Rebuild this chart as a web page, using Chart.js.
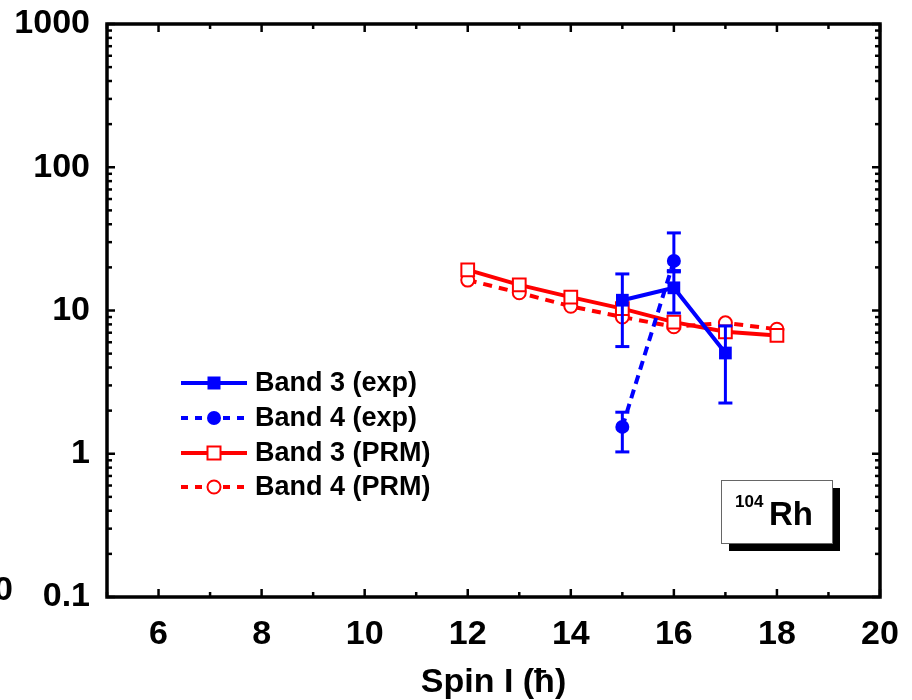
<!DOCTYPE html>
<html>
<head>
<meta charset="utf-8">
<script src="https://cdn.jsdelivr.net/npm/chart.js@4.4.1/dist/chart.umd.min.js"></script>
<style>
  html, body { margin: 0; padding: 0; background: #fff; }
  #wrap { width: 912px; height: 700px; }
</style>
</head>
<body>
<div id="wrap"><canvas id="c" width="912" height="700"></canvas></div>
<script>
// axis ticks
const xTicks = [6, 8, 10, 12, 14, 16, 18, 20];
const yTicks = [0.1, 1, 10, 100, 1000];

// PRM calculations
const spinPrm = [12, 13, 14, 15, 16, 17, 18];
const band3Prm = [19.2, 15.1, 12.4, 10.3, 8.3, 7.1, 6.7];
const band4Prm = [16.3, 13.3, 10.7, 9.0, 7.7, 8.2, 7.4];

// experiment, with error limits
const spinB3 = [15, 16, 17];
const band3Exp = [11.8, 14.4, 5.05];
const band3Lo = [5.6, 9.6, 2.26];
const band3Hi = [18.0, 19.0, 7.8];

const spinB4 = [15, 16];
const band4Exp = [1.54, 22.2];
const band4Lo = [1.03, 18.6];
const band4Hi = [1.95, 34.8];

const BLUE = '#0000ff';
const RED = '#ff0000';
const FONT = '"Liberation Sans", Arial, sans-serif';

const pts = (xs, ys) => xs.map((x, i) => ({ x: x, y: ys[i] }));

const datasets = [
  { label: 'Band 3 (exp)', data: pts(spinB3, band3Exp), lo: band3Lo, hi: band3Hi,
    borderColor: BLUE, backgroundColor: BLUE, borderWidth: 4,
    pointStyle: 'rect', pointRadius: 9, pointBorderWidth: 0 },
  { label: 'Band 4 (exp)', data: pts(spinB4, band4Exp), lo: band4Lo, hi: band4Hi,
    borderColor: BLUE, backgroundColor: BLUE, borderWidth: 4, borderDash: [9, 6],
    pointStyle: 'circle', pointRadius: 7, pointBorderWidth: 0 },
  { label: 'Band 3 (PRM)', data: pts(spinPrm, band3Prm),
    borderColor: RED, backgroundColor: '#fff', borderWidth: 4,
    pointStyle: 'rect', pointRadius: 9, pointBorderWidth: 2, pointBorderColor: RED },
  { label: 'Band 4 (PRM)', data: pts(spinPrm, band4Prm),
    borderColor: RED, backgroundColor: '#fff', borderWidth: 4, borderDash: [9, 7],
    pointStyle: 'circle', pointRadius: 6.5, pointBorderWidth: 2, pointBorderColor: RED }
];

function line(ctx, x1, y1, x2, y2) {
  ctx.beginPath(); ctx.moveTo(x1, y1); ctx.lineTo(x2, y2); ctx.stroke();
}

// error bars for the exp sets
const errorBars = {
  id: 'errorBars',
  afterDatasetsDraw(chart) {
    const { ctx, scales: { x, y } } = chart;
    ctx.save();
    chart.data.datasets.forEach(ds => {
      if (!ds.lo) return;
      ctx.strokeStyle = ds.borderColor;
      ctx.lineWidth = 3;
      ds.data.forEach((p, i) => {
        const px = x.getPixelForValue(p.x);
        const top = y.getPixelForValue(ds.hi[i]);
        const bot = y.getPixelForValue(ds.lo[i]);
        line(ctx, px, top, px, bot);
        line(ctx, px - 7, top, px + 7, top);
        line(ctx, px - 7, bot, px + 7, bot);
      });
    });
    ctx.restore();
  }
};

// box with inward ticks on all four sides
const frame = {
  id: 'frame',
  afterDraw(chart) {
    const { ctx, chartArea: a, scales: { x, y } } = chart;
    ctx.save();
    ctx.strokeStyle = '#000';
    ctx.lineWidth = 2.5;
    for (let v = 5; v <= 20; v++) {
      const px = x.getPixelForValue(v);
      const len = v % 2 === 0 ? 8 : 5;
      line(ctx, px, a.bottom, px, a.bottom - len);
      line(ctx, px, a.top, px, a.top + len);
    }
    yTicks.forEach(d => {
      for (let m = 1; m <= 9; m++) {
        const v = d * m;
        if (v > 1000) break;
        const py = y.getPixelForValue(v);
        const len = m === 1 ? 8 : 5;
        line(ctx, a.left, py, a.left + len, py);
        line(ctx, a.right, py, a.right - len, py);
      }
    });
    ctx.lineWidth = 3.5;
    ctx.strokeRect(a.left, a.top, a.right - a.left, a.bottom - a.top);

    // clipped leftover label at the far left
    ctx.fillStyle = '#000';
    ctx.font = 'bold 34px ' + FONT;
    ctx.textAlign = 'right';
    ctx.textBaseline = 'middle';
    ctx.fillText('0', 13, a.bottom - 6);
    ctx.restore();
  }
};

// legend inside the plot
const legendBox = {
  id: 'legendBox',
  afterDraw(chart) {
    const { ctx } = chart;
    const x0 = 181, x1 = 247, tx = 255;
    const rows = [383, 418, 453, 487];
    ctx.save();
    chart.data.datasets.forEach((ds, i) => {
      const yy = rows[i];
      ctx.strokeStyle = ds.borderColor;
      ctx.lineWidth = 4;
      ctx.setLineDash(ds.borderDash ? [7, 7] : []);
      line(ctx, x0, yy, x1, yy);
      ctx.setLineDash([]);
      const cx = (x0 + x1) / 2;
      ctx.fillStyle = ds.backgroundColor;
      ctx.lineWidth = 2;
      ctx.strokeStyle = ds.pointBorderColor || ds.borderColor;
      if (ds.pointStyle === 'rect') {
        const s = 6.5;
        ctx.fillRect(cx - s, yy - s, 2 * s, 2 * s);
        if (ds.pointBorderWidth) ctx.strokeRect(cx - s, yy - s, 2 * s, 2 * s);
      } else {
        ctx.beginPath(); ctx.arc(cx, yy, ds.pointRadius, 0, Math.PI * 2);
        ctx.fill();
        if (ds.pointBorderWidth) ctx.stroke();
      }
      ctx.fillStyle = '#000';
      ctx.font = 'bold 27px ' + FONT;
      ctx.textAlign = 'left';
      ctx.textBaseline = 'middle';
      ctx.fillText(ds.label, tx, yy + 1);
    });

    // nucleus label with drop shadow
    const bx = 721, by = 480, bw = 111, bh = 63;
    ctx.fillStyle = '#000';
    ctx.fillRect(bx + 8, by + 8, bw, bh);
    ctx.fillStyle = '#fff';
    ctx.fillRect(bx, by, bw, bh);
    ctx.strokeStyle = '#666';
    ctx.lineWidth = 1;
    ctx.strokeRect(bx + 0.5, by + 0.5, bw, bh);
    ctx.fillStyle = '#000';
    ctx.textBaseline = 'alphabetic';
    ctx.textAlign = 'left';
    ctx.font = 'bold 17px ' + FONT;
    ctx.fillText('104', 735, 507);
    ctx.font = 'bold 33px ' + FONT;
    ctx.fillText('Rh', 769, 525);
    ctx.restore();
  }
};

new Chart(document.getElementById('c'), {
  type: 'line',
  data: { datasets: datasets },
  options: {
    responsive: false,
    animation: false,
    events: [],
    layout: { padding: { top: 24, right: 32, left: 0, bottom: 0 } },
    plugins: { legend: { display: false }, tooltip: { enabled: false } },
    scales: {
      x: {
        type: 'linear', min: 5, max: 20,
        afterBuildTicks: s => { s.ticks = xTicks.map(v => ({ value: v })); },
        afterFit: s => { s.height = 103; s.paddingLeft = 0; s.paddingRight = 0; },
        grid: { display: false },
        border: { display: false },
        ticks: { color: '#000', padding: 9, font: { family: FONT, size: 34, weight: 'bold' } },
        title: { display: true, text: 'Spin I (ħ)', color: '#000',
                 font: { family: FONT, size: 34, weight: 'bold', lineHeight: 1 },
                 padding: { top: 0, bottom: 0 } }
      },
      y: {
        type: 'logarithmic', min: 0.1, max: 1000,
        afterBuildTicks: s => { s.ticks = yTicks.map(v => ({ value: v })); },
        afterFit: s => { s.width = 107; s.paddingTop = 0; s.paddingBottom = 0; },
        grid: { display: false },
        border: { display: false },
        ticks: { color: '#000', padding: 9, font: { family: FONT, size: 34, weight: 'bold' },
                 callback: v => String(v) }
      }
    }
  },
  plugins: [errorBars, frame, legendBox]
});
</script>
</body>
</html>
